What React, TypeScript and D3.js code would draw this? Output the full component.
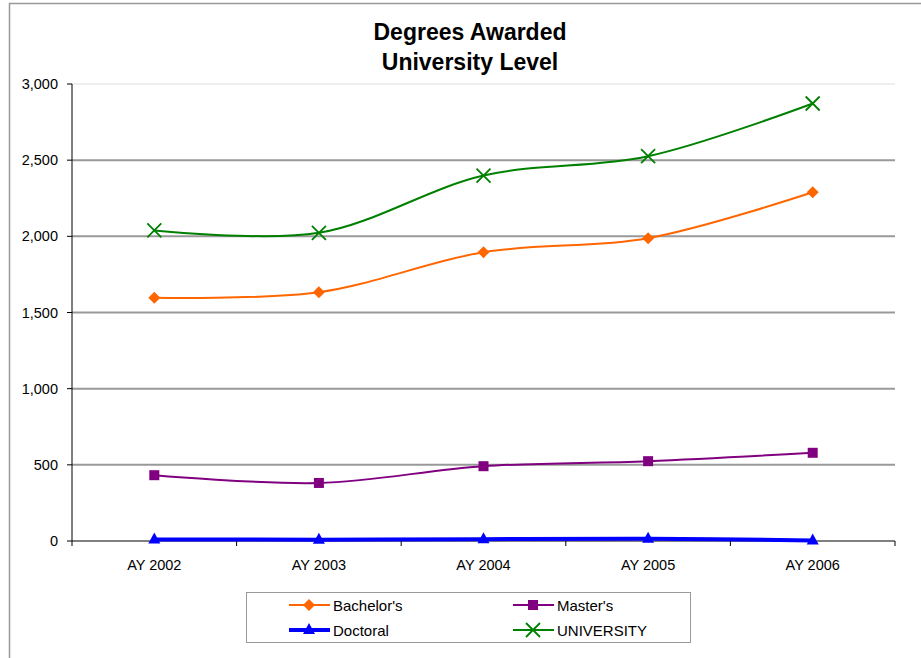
import React from 'react';
import * as d3 from "d3"

const years = ["AY 2002", "AY 2003", "AY 2004", "AY 2005", "AY 2006"]
const bachelors = [1597, 1633, 1896, 1988, 2289]
const masters = [432, 381, 491, 524, 579]
const doctoral = [10, 9, 12, 14, 4]
const university = [2039, 2023, 2399, 2526, 2872]
const yTicks = [0, 500, 1000, 1500, 2000, 2500, 3000]

const series = [
  {name: "Bachelor's", values: bachelors, color: "#ff6600", width: 2, marker: "diamond"},
  {name: "Master's", values: masters, color: "#800080", width: 2, marker: "square"},
  {name: "Doctoral", values: doctoral, color: "#0000ff", width: 4, marker: "triangle"},
  {name: "UNIVERSITY", values: university, color: "#008000", width: 2, marker: "x"},
]

const W = 921, H = 658
const margin = {top: 84, right: 26, bottom: 117, left: 72}

function Marker(props: {type: string, x: number, y: number, color: string}) {
  const {type, x, y, color} = props
  if (type === "diamond") {
    return <path d={`M${x},${y-6}L${x+6},${y}L${x},${y+6}L${x-6},${y}Z`} fill={color} />
  }
  if (type === "square") {
    return <rect x={x-5} y={y-5} width={10} height={10} fill={color} />
  }
  if (type === "triangle") {
    return <path d={`M${x},${y-7}L${x+6},${y+4}L${x-6},${y+4}Z`} fill={color} />
  }
  return <path d={`M${x-7},${y-7}L${x+7},${y+7}M${x+7},${y-7}L${x-7},${y+7}`} stroke={color} strokeWidth={1.8} />
}

export default function App() {
  const x = d3.scaleBand().domain(years).range([margin.left, W - margin.right])
  const y = d3.scaleLinear().domain([0, 3000]).range([H - margin.bottom, margin.top])
  const cx = (d: string) => (x(d) as number) + x.bandwidth() / 2
  const line = d3.line<number>()
    .x((d, i) => cx(years[i]))
    .y(d => y(d))
    .curve(d3.curveCatmullRom.alpha(0.5))

  const bounds = [...years.map(d => x(d) as number), W - margin.right]
  const legendX = [289, 513]
  const legendY = [605, 630]

  return (
    <svg width={W} height={H} style={{position: "absolute", left: 0, top: 0, fontFamily: "'Liberation Sans', Arial, sans-serif"}}>
      <rect x={0} y={0} width={W} height={H} fill="white" />
      {/* chart frame, cut off on the right and bottom */}
      <line x1={9} x2={W} y1={3.5} y2={3.5} stroke="#999" strokeWidth={1.5} />
      <line x1={9.5} x2={9.5} y1={3} y2={H} stroke="#999" strokeWidth={1.5} />

      <text x={470} y={40} textAnchor="middle" fontSize={23} fontWeight="bold">Degrees Awarded</text>
      <text x={470} y={70} textAnchor="middle" fontSize={23} fontWeight="bold">University Level</text>

      {/* gridlines */}
      {yTicks.map(t => (
        <line key={t} x1={margin.left} x2={W - margin.right} y1={y(t)} y2={y(t)}
          stroke={t === 3000 ? "#eeeeee" : "#999"} strokeWidth={t === 0 ? 0 : 2} />
      ))}

      {/* y axis */}
      <line x1={margin.left} x2={margin.left} y1={y(3000)} y2={y(0)} stroke="#000" />
      {yTicks.map(t => (
        <g key={t}>
          <line x1={margin.left - 5} x2={margin.left} y1={y(t)} y2={y(t)} stroke="#000" />
          <text x={margin.left - 14} y={y(t) + 5} textAnchor="end" fontSize={14.5}>{d3.format(",")(t)}</text>
        </g>
      ))}

      {/* x axis */}
      <line x1={margin.left} x2={W - margin.right} y1={y(0)} y2={y(0)} stroke="#000" />
      {bounds.map((b, i) => (
        <line key={i} x1={b} x2={b} y1={y(0)} y2={y(0) + 5} stroke="#000" />
      ))}
      {years.map(d => (
        <text key={d} x={cx(d)} y={570} textAnchor="middle" fontSize={14.5}>{d}</text>
      ))}

      {/* series */}
      {series.map(s => (
        <g key={s.name}>
          <path d={line(s.values) as string} fill="none" stroke={s.color} strokeWidth={s.width} />
          {s.values.map((v, i) => (
            <Marker key={i} type={s.marker} x={cx(years[i])} y={y(v)} color={s.color} />
          ))}
        </g>
      ))}

      {/* legend */}
      <rect x={246.5} y={592.5} width={444} height={50} fill="white" stroke="#999" />
      {series.map((s, i) => {
        const lx = legendX[i % 2], ly = legendY[Math.floor(i / 2)]
        return (
          <g key={s.name}>
            <line x1={lx} x2={lx + 41} y1={ly} y2={ly} stroke={s.color} strokeWidth={s.width} />
            <Marker type={s.marker} x={lx + 20} y={ly} color={s.color} />
            <text x={lx + 44} y={ly + 5.5} fontSize={15}>{s.name}</text>
          </g>
        )
      })}
    </svg>
  )
}
